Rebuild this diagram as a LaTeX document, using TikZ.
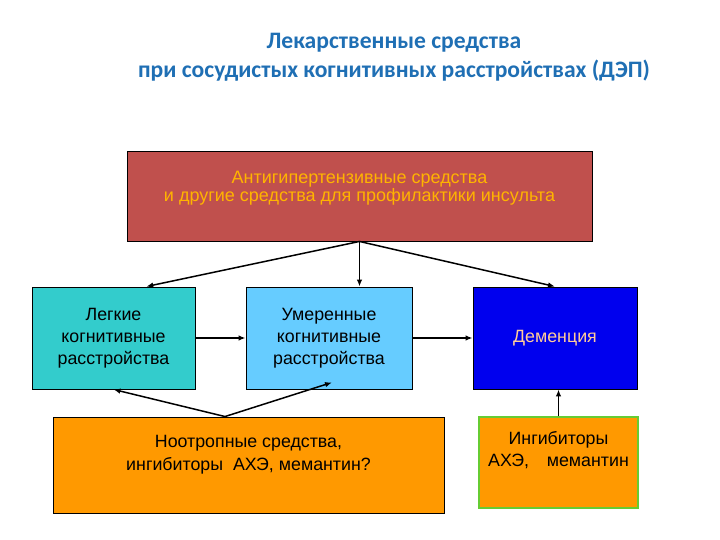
\documentclass[tikz,border=0pt]{standalone}
\usepackage{fontspec}
\setmainfont{Liberation Sans}
\newfontfamily\titlefont{Carlito}
\usetikzlibrary{calc,arrows.meta}
\definecolor{TitleBlue}{HTML}{1F6FB4}
\definecolor{BrickRed}{HTML}{C0504D}
\definecolor{AmberText}{HTML}{FFB400}
\definecolor{TealBox}{HTML}{33CCCC}
\definecolor{SkyBox}{HTML}{66CCFF}
\definecolor{DeepBlue}{HTML}{0000EE}
\definecolor{PeachText}{HTML}{FFCC99}
\definecolor{OrangeBox}{HTML}{FF9900}
\definecolor{LeafGreen}{HTML}{66CC33}

\tikzset{
  box/.style={draw=black, line width=0.9pt, inner sep=0pt, align=center},
  boxtext/.style={align=center, font=\fontsize{17.8}{22}\selectfont},
  arr/.style={line width=1.5pt, -{Latex[length=7pt,width=5.5pt]}}
}

\begin{document}
\begin{tikzpicture}[x=1pt, y=-1pt]
  \useasboundingbox (0,0) rectangle (720,540);

  \node[align=center, text=TitleBlue,
        font=\titlefont\bfseries\fontsize{23.6}{29.5}\selectfont] (title) at (394,57.5)
    {Лекарственные средства\\при сосудистых когнитивных расстройствах (ДЭП)};

  \node[box, fill=BrickRed, minimum width=465pt, minimum height=90pt] (top) at (359.5,196) {};
  \node[boxtext, text=AmberText, font=\fontsize{18}{18}\selectfont] (toptext) at (359.5,188)
    {Антигипертензивные средства\\и другие средства для профилактики инсульта};

  \node[box, boxtext, fill=TealBox, minimum width=163pt, minimum height=102pt] (mild) at (113.5,338)
    {Легкие\\когнитивные\\расстройства};
  \node[box, boxtext, fill=SkyBox, minimum width=166pt, minimum height=102pt] (moderate) at (329,338)
    {Умеренные\\когнитивные\\расстройства};
  \node[box, boxtext, fill=DeepBlue, text=PeachText, minimum width=164pt, minimum height=102pt] (dem) at (555,338)
    {Деменция};

  \node[box, fill=OrangeBox, minimum width=391pt, minimum height=96pt] (nootrop) at (248.5,465) {};
  \node[boxtext, font=\fontsize{17.8}{23}\selectfont] (nootext) at (248.5,455)
    {Ноотропные средства,\\ингибиторы\ \ АХЭ, мемантин?};
  \node[box, draw=LeafGreen, line width=1.1pt, fill=OrangeBox, minimum width=159pt, minimum height=91pt] (inhib) at (558.5,462.5) {};
  \node[boxtext] (inhibtext) at (558.5,450)
    {Ингибиторы\\АХЭ,\quad мемантин};

  \draw[arr] (top.south) -- ($(mild.north west)!0.7!(mild.north east)$);
  \draw[arr] (top.south) -- (top.south |- moderate.north);
  \draw[arr] (top.south) -- (dem.north);
  \draw[arr] (mild.east) -- (moderate.west);
  \draw[arr] (moderate.east) -- (dem.west);

  \coordinate (fork) at ($(nootrop.north west)!0.44!(nootrop.north east)$);
  \draw[arr] (fork) -- (mild.south);
  \draw[arr] (fork) -- ($(moderate.south)+(3,-7)$);
  \draw[arr] (inhib.north) -- (inhib.north |- dem.south);
\end{tikzpicture}
\end{document}
